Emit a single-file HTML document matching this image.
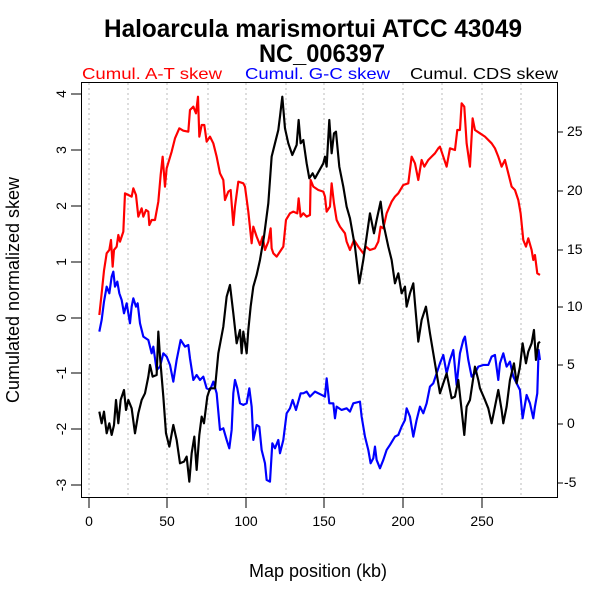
<!DOCTYPE html>
<html><head><meta charset="utf-8"><style>html,body{margin:0;padding:0;background:#fff}svg{display:block}</style></head><body>
<svg width="600" height="600" viewBox="0 0 600 600" xmlns="http://www.w3.org/2000/svg" font-family="Liberation Sans, sans-serif">
<rect width="600" height="600" fill="#fff"/>
<text x="313" y="37" font-size="25" font-weight="bold" text-anchor="middle" textLength="418" lengthAdjust="spacingAndGlyphs">Haloarcula marismortui ATCC 43049</text>
<text x="322" y="62" font-size="25" font-weight="bold" text-anchor="middle" textLength="126" lengthAdjust="spacingAndGlyphs">NC_006397</text>
<text x="82" y="79" font-size="16" fill="#f00" textLength="140" lengthAdjust="spacingAndGlyphs">Cumul. A-T skew</text>
<text x="245" y="79" font-size="16" fill="#00f" textLength="145" lengthAdjust="spacingAndGlyphs">Cumul. G-C skew</text>
<text x="410" y="79" font-size="16" fill="#000" textLength="148" lengthAdjust="spacingAndGlyphs">Cumul. CDS skew</text>
<g stroke="#bbb" stroke-width="1" stroke-dasharray="2,3">
<line x1="89" y1="83" x2="89" y2="497"/><line x1="128" y1="83" x2="128" y2="497"/><line x1="167" y1="83" x2="167" y2="497"/><line x1="208" y1="83" x2="208" y2="497"/><line x1="246" y1="83" x2="246" y2="497"/><line x1="286" y1="83" x2="286" y2="497"/><line x1="324" y1="83" x2="324" y2="497"/><line x1="363" y1="83" x2="363" y2="497"/><line x1="403" y1="83" x2="403" y2="497"/><line x1="442" y1="83" x2="442" y2="497"/><line x1="482" y1="83" x2="482" y2="497"/><line x1="521" y1="83" x2="521" y2="497"/>
</g>
<rect x="81.5" y="82.5" width="476" height="415" fill="none" stroke="#000" stroke-width="1"/>
<g stroke="#000" stroke-width="1">
<line x1="71" y1="94" x2="81" y2="94"/><line x1="71" y1="150" x2="81" y2="150"/><line x1="71" y1="206" x2="81" y2="206"/><line x1="71" y1="262" x2="81" y2="262"/><line x1="71" y1="318" x2="81" y2="318"/><line x1="71" y1="373" x2="81" y2="373"/><line x1="71" y1="429" x2="81" y2="429"/><line x1="71" y1="485" x2="81" y2="485"/>
<line x1="89" y1="498" x2="89" y2="508"/><line x1="167" y1="498" x2="167" y2="508"/><line x1="246" y1="498" x2="246" y2="508"/><line x1="324" y1="498" x2="324" y2="508"/><line x1="403" y1="498" x2="403" y2="508"/><line x1="482" y1="498" x2="482" y2="508"/>
<line x1="558" y1="132" x2="563" y2="132"/><line x1="558" y1="191" x2="563" y2="191"/><line x1="558" y1="250" x2="563" y2="250"/><line x1="558" y1="307" x2="563" y2="307"/><line x1="558" y1="365" x2="563" y2="365"/><line x1="558" y1="424" x2="563" y2="424"/><line x1="558" y1="483" x2="563" y2="483"/>
</g>
<g font-size="14" text-anchor="middle">
<text transform="translate(61,94) rotate(-90)" dy="5">4</text>
<text transform="translate(61,150) rotate(-90)" dy="5">3</text>
<text transform="translate(61,206) rotate(-90)" dy="5">2</text>
<text transform="translate(61,262) rotate(-90)" dy="5">1</text>
<text transform="translate(61,318) rotate(-90)" dy="5">0</text>
<text transform="translate(61,373) rotate(-90)" dy="5">-1</text>
<text transform="translate(61,429) rotate(-90)" dy="5">-2</text>
<text transform="translate(61,485) rotate(-90)" dy="5">-3</text>
<text x="89" y="526">0</text><text x="167" y="526">50</text><text x="246" y="526">100</text><text x="324" y="526">150</text><text x="403" y="526">200</text><text x="482" y="526">250</text>
</g>
<g font-size="14" text-anchor="start">
<text x="567" y="136">25</text><text x="567" y="195">20</text><text x="567" y="254">15</text><text x="567" y="311">10</text><text x="567" y="369">5</text><text x="567" y="428">0</text><text x="564" y="487">-5</text>
</g>
<text x="318" y="577" font-size="18" text-anchor="middle">Map position (kb)</text>
<text transform="translate(19,290) rotate(-90)" font-size="18" text-anchor="middle">Cumulated normalized skew</text>
<g transform="translate(60,60) scale(0.3333)" fill="none" stroke-width="6.5" stroke-linejoin="round">
<polyline stroke="#f00" points="118,765 125,700 132,632 140,580 148,570 153,540 158,620 162,570 170,560 175,525 180,545 190,515 195,400 205,405 215,410 220,385 228,405 235,470 245,445 250,470 258,450 265,455 268,495 275,480 285,480 295,425 302,345 308,290 315,380 320,325 335,275 345,235 358,205 370,212 385,215 390,150 400,140 408,160 414,110 418,230 425,195 433,195 440,245 450,230 460,250 470,290 480,340 490,360 495,420 505,395 512,390 520,495 525,440 535,365 550,370 555,380 565,455 575,550 580,500 590,530 600,555 608,530 615,570 625,545 632,505 635,565 640,580 650,590 660,575 670,560 678,480 690,460 700,455 712,460 716,415 722,470 730,460 740,470 750,465 752,360 760,380 775,390 790,395 795,410 800,455 810,440 815,370 822,430 830,480 840,500 855,520 860,545 870,570 882,540 895,560 910,580 918,560 930,570 945,565 955,545 962,500 970,505 980,460 995,425 1005,410 1015,400 1030,375 1045,370 1055,290 1065,310 1075,360 1085,300 1093,320 1105,300 1115,290 1125,280 1135,265 1140,260 1160,320 1170,265 1185,270 1192,210 1200,210 1205,130 1213,140 1220,250 1230,320 1238,175 1245,210 1260,220 1275,230 1295,250 1305,265 1315,290 1325,320 1335,300 1345,340 1355,380 1365,390 1375,420 1382,460 1390,540 1398,560 1405,535 1415,570 1420,600 1425,585 1432,640 1440,645"/>
<polyline stroke="#00f" points="118,815 125,780 132,725 140,680 148,700 155,650 160,635 165,680 172,665 178,700 185,720 192,760 200,730 210,790 215,740 220,715 228,740 233,730 240,790 250,830 265,840 275,880 280,860 290,930 300,920 310,880 320,890 330,915 340,965 350,900 362,840 375,860 385,855 390,895 400,960 410,945 420,960 430,950 440,985 450,990 460,965 470,1000 480,1110 490,1105 500,1140 508,1165 515,1110 520,1000 525,960 532,985 540,1030 550,1035 560,1030 568,985 575,1040 580,1140 590,1095 598,1100 605,1170 615,1210 620,1260 630,1265 637,1150 645,1165 655,1140 660,1180 670,1140 680,1060 690,1045 698,1020 708,1050 722,1000 730,1000 740,995 750,1010 765,995 785,1005 795,1010 800,955 808,1030 820,1030 825,1075 830,1040 845,1050 860,1045 870,1055 880,1030 900,1025 905,1070 915,1130 925,1170 932,1210 940,1195 945,1160 950,1200 960,1225 970,1200 980,1170 990,1155 1005,1130 1015,1125 1025,1100 1035,1080 1040,1045 1050,1070 1060,1130 1070,1080 1080,1040 1090,1060 1100,1030 1110,980 1120,970 1130,940 1140,910 1150,885 1160,940 1170,900 1180,870 1190,975 1200,880 1210,840 1215,830 1225,900 1235,950 1245,940 1255,920 1270,915 1285,915 1295,890 1305,885 1315,960 1320,910 1330,880 1340,920 1350,905 1360,950 1370,970 1380,990 1388,1075 1400,1005 1410,1030 1420,1075 1425,1040 1432,1000 1436,870 1440,900"/>
<polyline stroke="#000" points="118,1055 125,1090 132,1055 140,1120 148,1090 155,1125 162,1095 168,1020 175,1090 182,1020 192,990 198,1050 205,1020 215,1045 225,1120 235,1060 245,1020 255,1000 265,950 270,915 278,950 290,945 295,815 300,890 310,1010 318,1120 328,1160 340,1095 350,1140 360,1210 372,1205 380,1190 388,1265 395,1180 403,1130 410,1230 418,1125 425,1070 432,1090 442,1010 450,985 465,985 475,880 490,800 500,710 510,675 520,760 530,850 540,810 545,880 550,815 560,880 565,810 572,740 580,680 590,645 600,600 612,530 625,430 635,290 645,250 655,210 660,170 667,110 675,205 685,250 697,285 710,255 716,180 722,250 730,240 740,310 748,355 758,340 765,355 790,310 795,290 800,320 808,180 815,280 822,220 828,215 838,320 850,380 860,440 870,475 885,560 898,670 910,600 920,530 930,460 942,520 950,480 962,425 970,490 985,560 995,600 1005,670 1015,640 1025,700 1035,680 1040,740 1050,700 1060,670 1065,730 1075,845 1085,780 1098,740 1110,820 1120,880 1130,940 1140,1000 1150,970 1160,940 1175,1015 1185,1010 1195,960 1205,1050 1213,1125 1220,1040 1230,1020 1245,920 1255,960 1260,985 1275,1020 1285,1045 1295,1090 1305,1040 1315,990 1325,1050 1330,1090 1340,1040 1350,960 1362,910 1370,970 1380,920 1388,850 1398,910 1405,875 1415,850 1422,810 1428,900 1435,850 1440,845"/>
</g>
</svg>
</body></html>
